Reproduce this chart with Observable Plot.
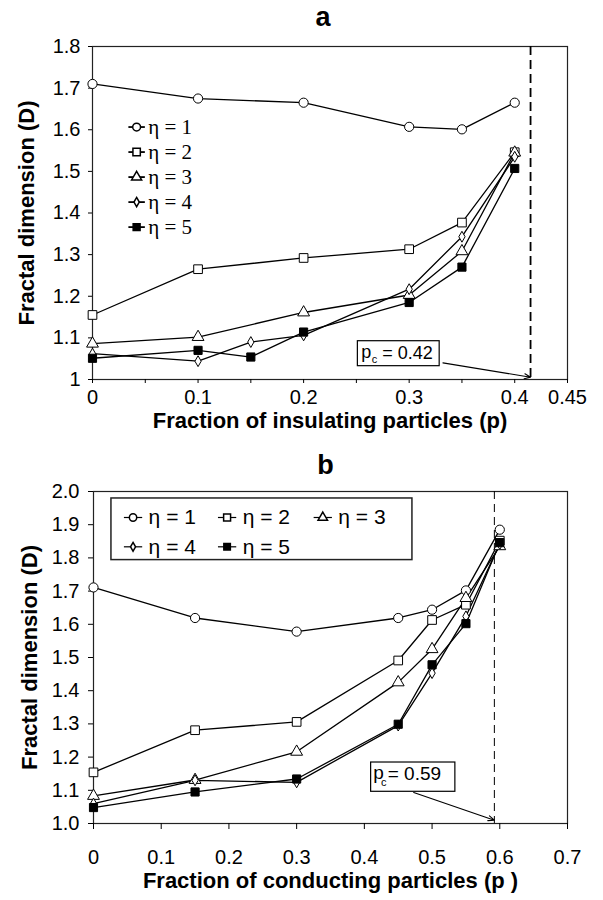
<!DOCTYPE html>
<html><head><meta charset="utf-8">
<script src="https://cdn.jsdelivr.net/npm/d3@7"></script>
<script src="https://cdn.jsdelivr.net/npm/@observablehq/plot@0.6"></script>
<style>
body{margin:0;background:#fff;width:603px;}
#a svg,#b svg{display:block}
</style></head><body>
<div id="a"></div><div id="b"></div>
<script>
// ---------- data ----------
const seriesNames = ["η = 1", "η = 2", "η = 3", "η = 4", "η = 5"];
const seriesSymbols = ["circle", "square", "triangle", "diamond", "square"];
const seriesFills = ["white", "white", "white", "white", "black"];

// Panel a: fraction of insulating particles
const pA = [0, 0.1, 0.15, 0.2, 0.3, 0.35, 0.4];
const eta1A = [1.710, 1.675, null, 1.665, 1.607, 1.601, 1.665];
const eta2A = [1.155, 1.265, null, 1.292, 1.313, 1.377, 1.546];
const eta3A = [1.086, 1.102, null, 1.161, 1.203, 1.308, 1.545];
const eta4A = [1.062, 1.044, 1.090, 1.106, 1.217, 1.343, 1.535];
const eta5A = [1.051, 1.070, 1.054, 1.114, 1.185, 1.270, 1.507];
const xTicksA = [0, 0.05, 0.1, 0.15, 0.2, 0.25, 0.3, 0.35, 0.4, 0.45];
const xTickLabelsA = ["0", "", "0.1", "", "0.2", "", "0.3", "", "0.4", "0.45"];
const yTicksA = [1, 1.1, 1.2, 1.3, 1.4, 1.5, 1.6, 1.7, 1.8];
const yTickLabelsA = ["1", "1.1", "1.2", "1.3", "1.4", "1.5", "1.6", "1.7", "1.8"];
const pcA = 0.415;
const pcLabelA = "= 0.42";

// Panel b: fraction of conducting particles
const pB = [0, 0.15, 0.3, 0.45, 0.5, 0.55, 0.6];
const eta1B = [1.711, 1.619, 1.578, 1.619, 1.644, 1.702, 1.885];
const eta2B = [1.154, 1.281, 1.306, 1.491, 1.613, 1.659, 1.852];
const eta3B = [1.083, 1.131, 1.216, 1.425, 1.525, 1.679, 1.835];
const eta4B = [1.060, 1.130, 1.124, 1.295, 1.453, 1.624, 1.842];
const eta5B = [1.048, 1.095, 1.134, 1.299, 1.478, 1.602, 1.846];
const xTicksB = [0, 0.1, 0.2, 0.3, 0.4, 0.5, 0.6, 0.7];
const xTickLabelsB = ["0", "0.1", "0.2", "0.3", "0.4", "0.5", "0.6", "0.7"];
const yTicksB = [1, 1.1, 1.2, 1.3, 1.4, 1.5, 1.6, 1.7, 1.8, 1.9, 2.0];
const yTickLabelsB = ["1.0", "1.1", "1.2", "1.3", "1.4", "1.5", "1.6", "1.7", "1.8", "1.9", "2.0"];
const pcB = 0.592;
const pcLabelB = "= 0.59";

// ---------- helpers ----------
function table(ps, cols) {
  const rows = [];
  cols.forEach((vals, s) => vals.forEach((v, j) => { if (v != null) rows.push({p: ps[j], D: v, s}); }));
  return rows;
}
const markerR = [4.6, 4.9, 4.4, 3.3, 4.6];
function dotsFor(rows, s, extra = {}) {
  return Plot.dot(rows.filter(d => d.s === s), {
    x: "p", y: "D", symbol: seriesSymbols[s], fill: seriesFills[s],
    stroke: "black", strokeWidth: 1, r: markerR[s], ...extra
  });
}
const sans = "'Liberation Sans', Arial, Helvetica, sans-serif";
const serif = "'Liberation Serif', 'Times New Roman', serif";

function fmt(ticks, labels) { return d => { const i = ticks.findIndex(t => Math.abs(t - d) < 1e-9); return i >= 0 ? labels[i] : ""; }; }

// ---------- panel a ----------
const rowsA = table(pA, [eta1A, eta2A, eta3A, eta4A, eta5A]);
const legA = seriesNames.map((name, s) => ({s, name, x: 0.0418, y: 1.6065 - s * 0.0601}));
const legendAMarks = [];
legA.forEach(l => {
  legendAMarks.push(Plot.link([l], {x1: d => d.x - 0.0078, x2: d => d.x + 0.0078, y1: "y", y2: "y", stroke: "black", strokeWidth: 1.8}));
  legendAMarks.push(Plot.dot([l], {x: "x", y: "y", symbol: seriesSymbols[l.s], fill: seriesFills[l.s], stroke: "black", r: markerR[l.s] * 0.85}));
  legendAMarks.push(Plot.text([l], {x: d => d.x + 0.011, y: "y", text: "name", textAnchor: "start", fontFamily: serif, fontSize: 21}));
});

const plotA = Plot.plot({
  width: 603, height: 432,
  marginTop: 46, marginBottom: 53, marginLeft: 92, marginRight: 36,
  style: {fontFamily: sans, fontSize: "20px", color: "black", background: "white", overflow: "visible"},
  x: {domain: [0, 0.45]},
  y: {domain: [1, 1.8]},
  marks: [
    Plot.frame({stroke: "#222", strokeWidth: 1.2}),
    Plot.axisX({ticks: xTicksA, tickFormat: fmt(xTicksA, xTickLabelsA), tickSize: 4, tickPadding: 6, label: null, fontSize: 20}),
    Plot.axisY({ticks: yTicksA, tickFormat: fmt(yTicksA, yTickLabelsA), tickSize: 4, tickPadding: 8, label: null, fontSize: 20}),
    Plot.ruleX([pcA], {stroke: "black", strokeWidth: 1.8, strokeDasharray: "9,5"}),
    Plot.line(rowsA, {x: "p", y: "D", z: "s", stroke: "black", strokeWidth: 1.3}),
    ...[0, 1, 2, 3, 4].map(s => dotsFor(rowsA, s)),
    ...legendAMarks,
    Plot.rect([{x1: 0.2514, x2: 0.3289, y1: 1.032, y2: 1.092}], {x1: "x1", x2: "x2", y1: "y1", y2: "y2", fill: "white", stroke: "black", strokeWidth: 1.2}),
    Plot.text(["p"], {x: 0.2545, y: 1.0645, text: d => d, textAnchor: "start", fontSize: 18}),
    Plot.text(["c"], {x: 0.2645, y: 1.0490, text: d => d, textAnchor: "start", fontSize: 11}),
    Plot.text([pcLabelA], {x: 0.2745, y: 1.0625, text: d => d, textAnchor: "start", fontSize: 18}),
    Plot.arrow([{x1: 0.332, y1: 1.040, x2: pcA, y2: 1.0055}], {x1: "x1", y1: "y1", x2: "x2", y2: "y2", stroke: "black", strokeWidth: 1.1, headLength: 9, headAngle: 45}),
    Plot.text(["a"], {frameAnchor: "top", lineAnchor: "middle", dx: -7, dy: -29, text: d => d, fontSize: 27, fontWeight: "bold"}),
    Plot.text(["Fraction of insulating particles (p)"], {frameAnchor: "bottom", lineAnchor: "middle", dy: 41, text: d => d, fontSize: 22, fontWeight: "bold"}),
    Plot.text(["Fractal dimension (D)"], {frameAnchor: "left", textAnchor: "middle", lineAnchor: "middle", dx: -66, rotate: -90, text: d => d, fontSize: 22, fontWeight: "bold"})
  ]
});
document.getElementById("a").append(plotA);

// ---------- panel b ----------
const rowsB = table(pB, [eta1B, eta2B, eta3B, eta4B, eta5B]);
const legBPos = [[0.0584, 1.9217], [0.1973, 1.9217], [0.3386, 1.9217], [0.0584, 1.8334], [0.1973, 1.8334]];
const legB = seriesNames.map((name, s) => ({s, name, x: legBPos[s][0], y: legBPos[s][1]}));
const legendBMarks = [
  Plot.rect([{x1: 0.0265, x2: 0.4710, y1: 1.7934, y2: 1.979}], {x1: "x1", x2: "x2", y1: "y1", y2: "y2", fill: "white", stroke: "#222", strokeWidth: 1.5})
];
legB.forEach(l => {
  legendBMarks.push(Plot.link([l], {x1: d => d.x - 0.0135, x2: d => d.x + 0.0135, y1: "y", y2: "y", stroke: "black", strokeWidth: 1.2}));
  legendBMarks.push(Plot.dot([l], {x: "x", y: "y", symbol: seriesSymbols[l.s], fill: seriesFills[l.s], stroke: "black", r: markerR[l.s] * 0.8}));
  legendBMarks.push(Plot.text([l], {x: d => d.x + 0.023, y: "y", text: "name", textAnchor: "start", fontFamily: sans, fontSize: 21}));
});

const plotB = Plot.plot({
  width: 603, height: 468,
  marginTop: 59, marginBottom: 77, marginLeft: 93, marginRight: 36,
  style: {fontFamily: sans, fontSize: "20px", color: "black", background: "white", overflow: "visible"},
  x: {domain: [0, 0.7]},
  y: {domain: [1, 2]},
  marks: [
    Plot.frame({stroke: "#222", strokeWidth: 1.2}),
    Plot.axisX({ticks: xTicksB, tickFormat: fmt(xTicksB, xTickLabelsB), tickSize: 6, tickPadding: 20, label: null, fontSize: 20}),
    Plot.axisY({ticks: yTicksB, tickFormat: fmt(yTicksB, yTickLabelsB), tickSize: 5, tickPadding: 9, label: null, fontSize: 20}),
    Plot.ruleX([pcB], {stroke: "black", strokeWidth: 1, strokeDasharray: "8,5"}),
    ...legendBMarks,
    Plot.line(rowsB, {x: "p", y: "D", z: "s", stroke: "black", strokeWidth: 1.3}),
    ...[0, 1, 2, 3, 4].map(s => dotsFor(rowsB, s)),
    Plot.rect([{x1: 0.410, x2: 0.5344, y1: 1.0955, y2: 1.1837}], {x1: "x1", x2: "x2", y1: "y1", y2: "y2", fill: "white", stroke: "black", strokeWidth: 1.2}),
    Plot.text(["p"], {x: 0.413, y: 1.151, text: d => d, textAnchor: "start", fontSize: 19}),
    Plot.text(["c"], {x: 0.4245, y: 1.125, text: d => d, textAnchor: "start", fontSize: 11}),
    Plot.text([pcLabelB], {x: 0.4345, y: 1.149, text: d => d, textAnchor: "start", fontSize: 19}),
    Plot.arrow([{x1: 0.4729, y1: 1.0934, x2: pcB, y2: 1.010}], {x1: "x1", y1: "y1", x2: "x2", y2: "y2", stroke: "black", strokeWidth: 1.1, headLength: 9, headAngle: 45}),
    Plot.text(["b"], {frameAnchor: "top", lineAnchor: "middle", dx: -5, dy: -26, text: d => d, fontSize: 27, fontWeight: "bold"}),
    Plot.text(["Fraction of conducting particles (p )"], {frameAnchor: "bottom", lineAnchor: "middle", dy: 57, text: d => d, fontSize: 22, fontWeight: "bold"}),
    Plot.text(["Fractal dimension (D)"], {frameAnchor: "left", textAnchor: "middle", lineAnchor: "middle", dx: -64, rotate: -90, text: d => d, fontSize: 22, fontWeight: "bold"})
  ]
});
document.getElementById("b").append(plotB);
</script>
</body></html>
